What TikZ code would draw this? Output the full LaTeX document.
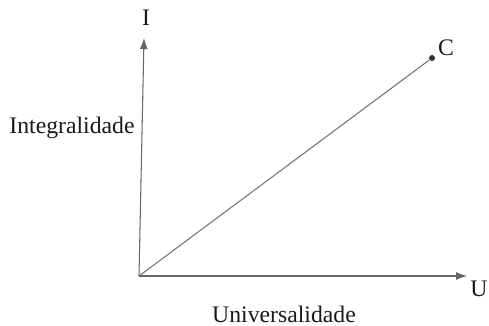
\documentclass[tikz,border=0pt]{standalone}
\usepackage{fontspec}
\setmainfont{Liberation Serif}
\usetikzlibrary{arrows.meta}
\tikzset{
  axis/.style={-{Latex[length=2.2mm,width=1.6mm]},draw=black!60,line width=0.6pt},
  diag/.style={draw=black!55,line width=0.6pt},
  lbl/.style={font=\fontsize{13.5}{16}\selectfont,text=black!90,inner sep=0pt}
}

\begin{document}
\begin{tikzpicture}[x=0.02cm,y=-0.02cm]
\useasboundingbox (0,0) rectangle (489,325);

% Origin and ends of the axes
\coordinate (O) at (139,276);
\coordinate (Itip) at (144,38);
\coordinate (Utip) at (467,276);
\node[circle,fill=black!80,inner sep=0pt,minimum size=1.2mm] (C) at (432,58) {};

% Labels
\node[lbl] (I) at (146,18) {I};
\node[lbl] (U) at (479,289) {U};
\node[lbl] (Clbl) at (446,48) {C};
\node[lbl] (integ) at (72,128) {Integralidade};
\node[lbl] (univ) at (284,314) {Universalidade};

% Axes
\draw[axis] (O) -- (Itip);
\draw[axis] (O) -- (Utip);

% Diagonal
\draw[diag] (O) -- (C);

\end{tikzpicture}
\end{document}
